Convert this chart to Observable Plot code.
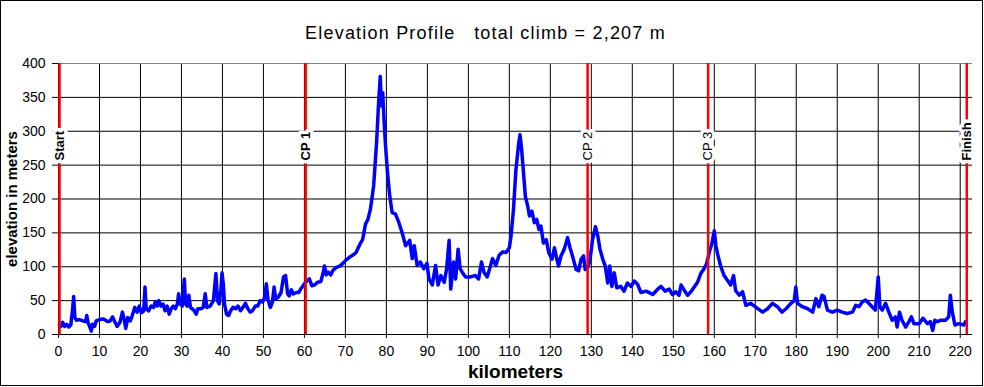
<!DOCTYPE html>
<html><head><meta charset="utf-8">
<script src="https://cdn.jsdelivr.net/npm/d3@7"></script>
<script src="https://cdn.jsdelivr.net/npm/@observablehq/plot@0.6"></script>
<style>
html,body{margin:0;padding:0;background:#fff;}
#chart{position:relative;width:984px;height:387px;overflow:hidden;}
#chart svg{display:block;}
#chart::after{content:"";position:absolute;left:0;top:0;width:981px;height:384px;border:1px solid #000;pointer-events:none;}
</style></head><body><div id="chart"></div>
<script>
const kmValues = [0.2,0.6,1.0,1.5,2.0,2.5,3.0,3.4,3.7,4.0,4.4,5.0,6.0,6.6,6.9,7.2,7.7,8.0,8.3,8.8,9.2,10.0,11.0,12.0,12.6,13.2,13.8,14.3,15.0,15.6,16.1,16.4,16.9,17.5,18.0,18.6,19.2,19.7,20.2,20.8,21.1,21.4,22.0,22.6,23.2,23.6,24.1,24.5,25.0,25.5,26.0,26.5,27.0,27.5,28.0,28.5,29.0,29.3,29.7,30.2,30.7,31.0,31.4,31.8,32.2,33.0,33.6,34.0,34.8,35.3,35.8,36.2,37.0,37.8,38.4,38.8,39.2,39.6,39.9,40.2,40.5,41.0,41.5,42.0,42.6,43.2,43.8,44.4,45.0,45.6,46.2,46.8,47.3,48.0,48.6,49.2,49.8,50.3,50.7,51.1,51.7,52.2,52.6,53.0,53.6,54.3,54.9,55.4,55.9,56.3,56.8,57.3,58.0,58.6,59.2,60.0,60.6,61.2,61.8,62.4,63.2,64.0,64.6,64.9,65.3,65.8,66.4,67.0,67.8,68.6,69.4,70.0,71.0,72.0,72.6,73.6,74.2,74.9,75.5,76.1,76.9,77.6,78.1,78.5,78.7,78.9,79.1,79.5,79.8,80.2,80.8,81.4,82.2,83.0,83.8,84.7,85.7,86.3,86.8,87.5,88.3,89.1,89.9,90.4,91.2,92.0,92.6,93.3,94.1,94.7,95.3,95.7,96.4,96.9,97.5,98.0,98.5,99.3,100.5,101.7,102.5,103.2,103.8,104.6,105.9,106.7,107.5,108.4,109.2,110.0,110.4,111.0,111.6,112.3,112.6,113.0,113.4,113.9,114.5,114.9,115.5,116.1,116.7,117.2,117.7,118.3,119.0,119.6,120.4,121.0,121.6,122.0,122.6,123.4,124.2,124.8,125.4,126.3,126.9,127.5,128.1,128.5,129.1,129.7,130.3,131.0,131.6,132.1,132.8,133.4,134.0,134.5,135.0,135.6,136.2,137.2,138.0,138.8,139.7,140.5,141.3,142.1,143.4,145.0,146.2,147.0,148.0,149.0,149.8,150.6,151.4,151.9,152.7,153.5,154.3,155.1,155.9,156.7,157.5,158.1,158.8,159.4,160.0,160.4,160.8,161.6,162.4,163.2,164.0,164.7,165.2,166.1,166.9,167.7,168.9,170.2,171.8,173.0,174.2,175.4,176.5,177.5,178.7,179.5,179.9,180.3,181.5,182.8,184.0,184.8,185.5,186.3,186.8,187.6,188.8,190.0,191.2,192.4,193.7,194.5,195.3,196.1,196.9,197.7,198.5,199.3,200.0,200.4,201.0,201.8,202.6,203.4,204.2,204.6,205.2,205.8,206.7,207.5,208.1,208.7,210.0,210.9,212.0,212.7,213.3,213.8,214.4,215.2,216.4,217.2,217.6,218.0,218.7,219.6,220.9,221.3];
const elevValues = [15,12,18,12,15,11,14,35,56,25,21,22,20,19,28,18,10,5,15,12,20,22,23,19,20,26,18,12,18,33,20,9,25,20,28,40,33,42,32,35,70,38,35,42,40,48,42,50,42,45,35,42,30,38,42,38,45,60,45,42,82,45,42,58,40,36,30,38,38,40,60,40,42,50,90,50,45,65,91,75,45,30,28,35,40,38,42,35,40,46,38,33,35,42,42,50,48,55,75,52,40,48,70,52,55,62,85,87,60,57,66,60,62,62,68,75,79,82,72,73,77,78,92,101,88,92,88,95,99,101,105,109,114,118,121,134,140,163,170,185,220,283,342,381,350,337,357,308,278,244,205,180,178,166,151,131,139,112,131,102,107,97,105,82,73,102,73,87,77,97,139,67,107,82,126,97,92,85,85,87,82,107,92,85,112,102,117,122,121,128,145,184,243,283,295,273,243,204,189,175,182,165,170,155,160,135,140,121,111,128,111,101,116,126,143,128,116,96,94,111,116,96,98,111,140,159,145,126,111,101,76,101,71,91,69,71,64,76,71,79,74,62,64,59,67,71,64,67,59,63,58,73,65,58,63,70,77,90,97,104,122,134,153,131,119,100,87,80,73,87,65,58,63,43,46,40,33,38,46,41,33,38,46,50,70,46,41,38,33,53,41,58,56,36,33,36,33,31,33,43,41,48,51,46,41,36,85,41,36,46,33,21,26,11,33,21,11,19,26,16,16,24,16,19,6,21,19,21,21,26,58,36,14,16,14,19];

const markerNames = ["Start", "CP 1", "CP 2", "CP 3", "Finish"];
const markerKm = [0.25, 60.3, 129.1, 158.5, 221.6];
const markerBold = [true, true, false, false, true];

const xTicks = d3.range(0, 221, 10);
const yTicks = d3.range(0, 401, 50);

const titleText = "Elevation Profile\u00a0\u00a0\u00a0total climb = 2,207 m";
const xLabel = "kilometers";
const yLabel = "elevation in meters";

const profile = kmValues.map((k, i) => ({km: k, elev: elevValues[i]}));
const markers = markerNames.map((n, i) => ({name: n, km: markerKm[i], bold: markerBold[i]}));
const font = "'Liberation Sans', Arial, sans-serif";

const chart = Plot.plot({
  width: 984,
  height: 387,
  marginLeft: 58,
  marginRight: 12,
  marginTop: 63,
  marginBottom: 53,
  style: {fontFamily: font, background: "#fff", color: "#000", overflow: "visible"},
  x: {domain: [0, 223]},
  y: {domain: [0, 400]},
  marks: [
    Plot.ruleX(xTicks, {stroke: "#000", strokeWidth: 1}),
    Plot.ruleY(yTicks.filter(v => v < 400), {stroke: "#000", strokeWidth: 1}),
    Plot.ruleY(yTicks.filter(v => v === 400), {stroke: "#808080", strokeWidth: 1}),
    Plot.axisX({ticks: xTicks, tickSize: 4, tickPadding: 8, fontSize: 14, label: null, tickFormat: d => String(d)}),
    Plot.axisY({ticks: yTicks, tickSize: 6, tickPadding: 7, fontSize: 14, label: null, tickFormat: d => String(d)}),
    Plot.line(profile, {x: "km", y: "elev", stroke: "#0000ff", strokeWidth: 3.5, strokeLinejoin: "round"}),
    Plot.ruleX(markers, {x: "km", stroke: "#ff0000", strokeWidth: 2.5}),
    Plot.text(markers.filter(d => d.bold), {x: "km", text: "name", frameAnchor: "top", dy: 97, rotate: -90, textAnchor: "start", lineAnchor: "middle", fontSize: 13, fontWeight: "bold", fill: "#000", stroke: "#fff", strokeWidth: 7}),
    Plot.text(markers.filter(d => !d.bold), {x: "km", text: "name", frameAnchor: "top", dy: 97, rotate: -90, textAnchor: "start", lineAnchor: "middle", fontSize: 13, fontWeight: "normal", fill: "#000", stroke: "#fff", strokeWidth: 7}),
    Plot.text([titleText], {frameAnchor: "top", dy: -30.5, dx: -30, textAnchor: "middle", lineAnchor: "middle", fontSize: 18, fill: "#000"}),
    Plot.text([xLabel], {frameAnchor: "bottom", dy: 37, textAnchor: "middle", lineAnchor: "middle", fontSize: 19, fontWeight: "bold", fill: "#000"}),
    Plot.text([yLabel], {frameAnchor: "left", dx: -46, rotate: -90, textAnchor: "middle", lineAnchor: "middle", fontSize: 15, fontWeight: "bold", fill: "#000"})
  ]
});
d3.select(chart).selectAll("text").filter(function() { return this.textContent === titleText; }).attr("letter-spacing", "1.2px");
document.getElementById("chart").appendChild(chart);
</script></body></html>
